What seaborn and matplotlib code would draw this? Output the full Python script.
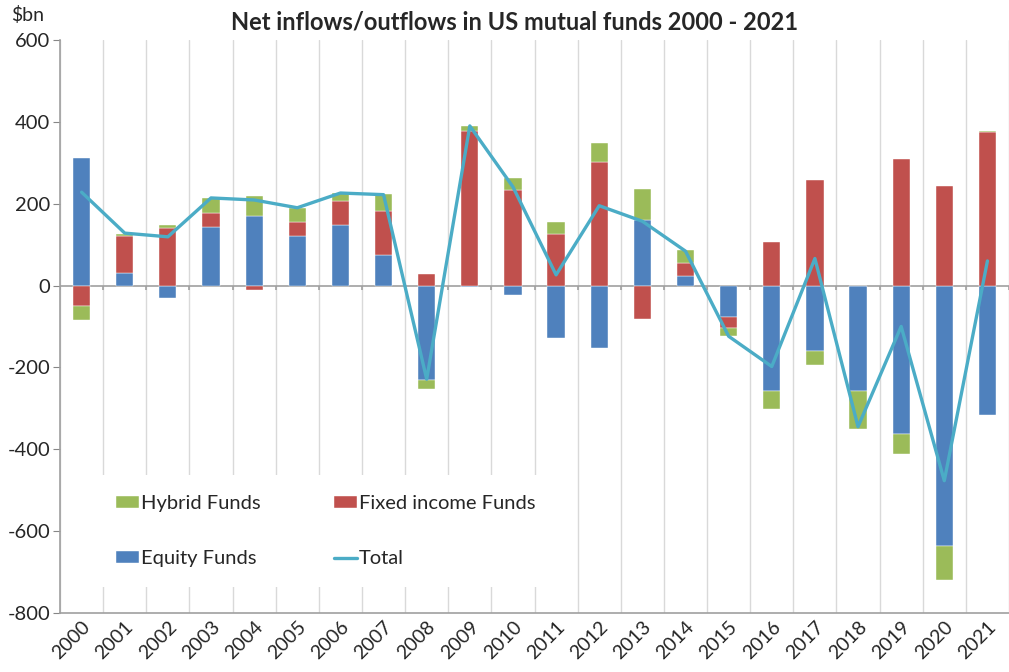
import numpy as np
import pandas as pd
import matplotlib
matplotlib.use("Agg")
import matplotlib.pyplot as plt
import seaborn as sns

years = [str(y) for y in range(2000, 2022)]
equity = [311, 31, -30, 143, 171, 122, 148, 74, -232, -3, -23, -129, -152, 159, 24, -77, -259, -161, -257, -364, -636, -316]
fixed_income = [-51, 89, 141, 34, -12, 32, 59, 109, 29, 378, 234, 125, 302, -82, 31, -27, 106, 258, 0, 310, 242, 375]
hybrid = [-34, 7, 7, 36, 48, 36, 19, 41, -22, 12, 29, 29, 47, 78, 31, -20, -44, -33, -93, -48, -84, 3]
total = [228, 128, 119, 214, 209, 190, 226, 222, -229, 390, 241, 26, 195, 157, 84, -124, -198, 66, -345, -100, -477, 60]

series = [("Equity Funds", equity, "#4F81BD"),
          ("Fixed income Funds", fixed_income, "#C0504D"),
          ("Hybrid Funds", hybrid, "#9BBB59")]

sns.set_style("white")
plt.rcParams['font.family'] = ['Lato', 'DejaVu Sans']
plt.rcParams['axes.unicode_minus'] = False

fig = plt.figure(figsize=(10.09, 6.72), dpi=100)
ax = fig.add_axes([0.0595, 0.088, 0.9405, 0.8525])

x = np.arange(len(years))
pos_base = np.zeros(len(years))
neg_base = np.zeros(len(years))
bars = {}
for name, vals, col in series:
    v = np.array(vals, dtype=float)
    base = np.where(v >= 0, pos_base, neg_base)
    bars[name] = ax.bar(x, v, bottom=base, width=0.4, color=col, label=name, zorder=3,
                        edgecolor="white", linewidth=0.3)
    pos_base += np.where(v >= 0, v, 0)
    neg_base += np.where(v < 0, v, 0)

df = pd.DataFrame({"x": x, "Total": total})
sns.lineplot(data=df, x="x", y="Total", ax=ax, color="#4BACC6", linewidth=2.4,
             label="Total", zorder=4)

ax.set_xlim(-0.5, len(years) - 0.5)
ax.set_ylim(-800, 600)
ax.set_yticks(range(-800, 601, 200))
ax.set_xticks(x)
ax.set_xticklabels(years, rotation=45, ha="right", rotation_mode="anchor", fontsize=14)
ax.set_xticks(np.arange(-0.5, len(years), 1), minor=True)
ax.grid(True, which="minor", axis="x", color="#d9d9d9", linewidth=1, zorder=0)
ax.tick_params(axis="x", which="both", length=0, pad=4)
ax.tick_params(axis="y", labelsize=14.5, length=5, color="#868686", direction="out", left=True, pad=2)
ax.set_xlabel("")
ax.set_ylabel("")

ax.axhline(0, color="#a0a0a0", linewidth=1.2, zorder=2)
ax.vlines(np.arange(-0.5, len(years), 1), -12, 0, color="#a0a0a0", linewidth=1.2, zorder=2)
for s in ["top", "right"]:
    ax.spines[s].set_visible(False)
for s in ["left", "bottom"]:
    ax.spines[s].set_color("#a0a0a0")
    ax.spines[s].set_linewidth(1.2)

h = [bars["Hybrid Funds"], bars["Equity Funds"], bars["Fixed income Funds"],
     ax.get_lines()[0]]
lab = ["Hybrid Funds", "Equity Funds", "Fixed income Funds", "Total"]
leg = ax.legend(h, lab, ncol=2, loc="upper left", bbox_to_anchor=(0.038, 0.241),
                frameon=True, fontsize=14.5, handlelength=1.15, handleheight=0.5,
                handletextpad=0.1, labelspacing=1.9, columnspacing=3.6,
                borderpad=1.0, borderaxespad=0)
leg.get_frame().set_facecolor("white")
leg.get_frame().set_edgecolor("none")
leg.get_frame().set_alpha(1)
leg.set_zorder(5)

fig.text(0.51, 0.968, "Net inflows/outflows in US mutual funds 2000 - 2021",
         ha="center", va="center", fontsize=17, fontweight="bold")
fig.text(0.011, 0.977, "$bn", ha="left", va="center", fontsize=14)

fig.savefig("out.png", dpi=100)
